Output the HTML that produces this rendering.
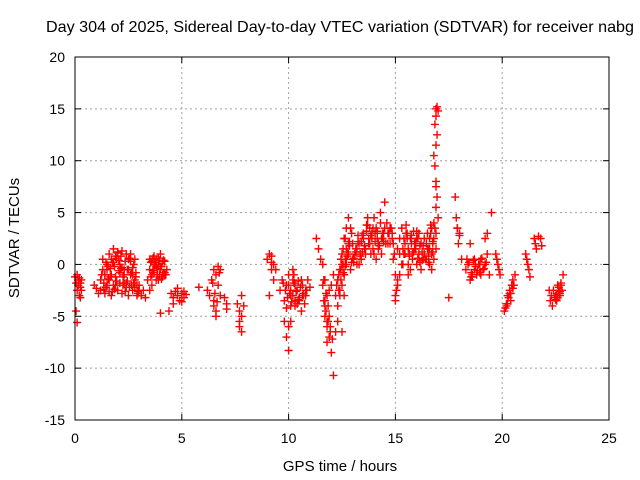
<!DOCTYPE html>
<html><head><meta charset="utf-8">
<style>
html,body{margin:0;padding:0;background:#fff;}
svg{display:block;font-family:"Liberation Sans",sans-serif;}
</style></head>
<body>
<svg id="chart" width="640" height="480" viewBox="0 0 640 480" xmlns="http://www.w3.org/2000/svg">
<text x="340" y="32" text-anchor="middle" font-size="16" textLength="588" lengthAdjust="spacingAndGlyphs" fill="#000">Day 304 of 2025, Sidereal Day-to-day VTEC variation (SDTVAR) for receiver nabg</text>
<g id="grid"></g>
<g id="ticks"></g>
<g id="points"></g>
<rect x="75" y="57" width="534" height="363" fill="none" stroke="#000" stroke-width="1"/>
<text x="340" y="471" text-anchor="middle" font-size="15">GPS time / hours</text>
<text transform="translate(19,238) rotate(-90)" text-anchor="middle" font-size="15">SDTVAR / TECUs</text>
</svg>
<script>
const xTicks=[0,5,10,15,20,25];
const yTicks=[-15,-10,-5,0,5,10,15,20];
const hours=[
0.0,0.05,0.1,0.1,0.15,0.15,0.2,0.2,0.25,0.25,0.3,0.05,0.1,0.25,0.3,
0.9,1.0,1.1,1.2,1.3,1.2,1.3,1.4,1.4,1.5,1.5,1.6,1.6,1.7,1.7,1.8,1.8,1.9,1.9,2.0,2.0,2.1,2.1,2.2,2.2,2.3,2.3,2.4,2.4,2.5,2.5,2.6,2.6,2.7,2.7,2.8,2.8,2.9,2.9,3.0,1.5,1.7,1.9,2.1,2.3,2.5,2.7,1.6,2.0,2.4,2.8,1.4,1.8,2.2,2.6,3.0,
3.1,3.2,3.3,3.4,3.5,3.5,3.6,3.6,3.7,3.7,3.8,3.8,3.9,3.9,4.0,4.0,4.1,4.1,4.2,4.2,4.3,3.6,3.8,4.0,4.2,3.7,3.9,4.1,4.0,3.5,
4.5,4.6,4.7,4.8,4.9,5.0,5.1,5.2,4.6,4.8,5.0,5.1,4.4,
5.8,6.2,6.3,6.4,6.5,6.5,6.6,6.6,6.7,6.7,6.8,6.5,6.6,6.8,7.0,7.1,7.1,
7.6,7.7,7.7,7.8,7.8,7.8,7.9,7.7,
9.0,9.1,9.2,9.2,9.3,9.4,9.3,9.1,9.2,
9.6,9.7,9.8,9.8,9.9,9.9,10.0,10.0,10.1,10.1,10.2,10.2,10.3,10.3,10.4,10.5,10.6,10.7,10.8,10.9,11.0,10.1,10.2,10.4,10.6,10.8,9.9,10.0,10.3,10.5,10.7,10.0,10.1,
11.3,11.4,11.5,11.6,11.6,11.7,11.7,11.8,11.8,11.9,11.9,12.0,12.0,12.1,12.1,11.7,11.8,11.9,11.8,11.7,12.2,
12.2,12.3,12.3,12.4,12.4,12.5,12.5,12.6,12.6,12.7,12.7,12.8,12.8,12.9,12.9,13.0,12.3,12.5,12.6,12.7,12.8,12.4,12.6,12.5,12.7,
13.0,13.1,13.2,13.3,13.4,13.5,13.6,13.7,13.8,13.9,14.0,14.1,14.2,14.3,14.4,14.5,13.2,13.5,13.8,14.1,14.4,13.3,13.6,13.9,14.2,14.5,14.0,14.3,13.4,13.7,
14.6,14.7,14.8,14.9,15.0,15.0,15.1,15.1,15.2,15.2,15.3,15.0,15.1,14.9,15.2,
15.3,15.4,15.5,15.6,15.7,15.8,15.9,16.0,16.1,16.2,16.3,15.5,15.7,15.9,16.1,16.3,15.4,15.6,15.8,16.0,16.2,15.6,16.0,
16.4,16.5,16.6,16.6,16.7,16.7,16.8,16.8,16.9,16.9,17.0,16.9,16.95,16.9,16.85,16.8,16.9,16.95,16.85,16.9,17.0,16.9,16.95,16.9,16.8,16.7,16.6,16.5,
17.5,17.8,17.85,17.9,17.95,18.0,18.1,18.0,17.9,
18.3,18.4,18.5,18.6,18.7,18.8,18.9,19.0,19.1,19.2,19.3,19.4,18.5,18.7,19.0,19.3,18.6,19.5,19.2,
19.7,19.75,19.8,19.85,19.9,
20.1,20.15,20.2,20.25,20.3,20.35,20.4,20.45,20.5,20.55,20.6,20.2,20.4,20.5,
21.1,21.15,21.2,21.25,21.3,21.5,21.55,21.6,21.7,21.8,21.85,
22.2,22.25,22.3,22.35,22.4,22.5,22.55,22.6,22.65,22.7,22.75,22.8,22.85,22.6,22.7,
1.25,1.35,1.45,1.55,1.65,1.75,1.85,1.95,2.05,2.15,2.25,2.35,2.45,2.55,2.65,2.75,2.85,2.95,1.35,1.55,1.75,1.95,2.15,2.35,2.55,2.75,2.95,1.45,1.65,1.85,2.05,2.25,2.45,2.65,2.85,
3.55,3.65,3.75,3.85,3.95,4.05,4.15,3.65,3.75,3.85,3.95,4.05,4.15,3.55,4.25,
6.45,6.55,6.65,6.75,
9.75,9.85,9.95,10.05,10.15,10.25,10.35,10.45,10.55,10.65,10.75,10.85,10.25,10.45,10.65,
11.65,11.75,11.85,11.95,11.75,11.85,11.95,12.05,11.65,
12.25,12.35,12.45,12.55,12.65,12.75,12.85,12.95,12.35,12.45,12.55,12.65,12.75,12.85,12.95,12.45,12.55,12.65,
13.05,13.15,13.25,13.35,13.45,13.55,13.65,13.75,13.85,13.95,14.05,14.15,14.25,14.35,14.45,13.15,13.35,13.55,13.75,13.95,14.15,14.35,14.55,13.05,13.25,13.45,13.65,13.85,14.05,14.25,14.45,
14.65,14.75,14.85,14.95,15.05,14.65,14.75,14.85,
15.35,15.45,15.55,15.65,15.75,15.85,15.95,16.05,16.15,16.25,15.35,15.45,15.55,15.65,15.75,15.85,15.95,16.05,16.15,16.25,
16.35,16.45,16.55,16.65,16.75,16.35,16.45,16.55,16.65,16.75,16.85,16.55,16.75,
18.45,18.55,18.65,18.75,18.85,18.95,19.05,19.15,19.25,18.35,18.55,18.75,18.95,
20.25,20.35,20.45,22.45,22.55,22.65,22.75,22.5,22.7
];
const sdtvar=[
-1.2,-1.8,-1.0,-2.5,-1.5,-2.0,-1.3,-3.0,-1.8,-2.2,-1.5,-4.5,-5.6,-3.2,-2.5,
-2.0,-2.3,-2.8,-1.5,-0.5,-2.5,0.5,-1.0,-2.8,0.0,-2.0,1.0,-1.5,0.5,-3.0,1.5,-2.0,0.8,-1.2,1.2,-2.5,0.0,-1.8,1.3,-2.8,-0.5,-1.0,1.0,-2.2,0.5,-3.0,1.0,-1.0,-0.3,-2.5,0.5,-1.5,-2.0,-3.0,-2.5,-0.5,-1.0,-2.0,-0.8,-1.8,-0.5,-1.0,-2.6,1.1,-1.8,-2.2,-1.0,0.2,-0.3,0.3,-2.0,
-3.0,-2.5,-3.2,-1.5,-0.5,0.5,-1.0,0.3,-0.8,0.8,-0.2,0.5,-1.5,0.0,-0.5,1.0,-1.0,0.3,-0.8,0.3,-0.5,-2.0,-1.5,-0.2,-1.0,0.0,0.6,-1.2,-4.7,-2.5,
-2.8,-3.2,-2.6,-3.0,-3.5,-2.8,-3.2,-2.9,-3.8,-2.3,-3.6,-2.6,-4.5,
-2.2,-2.5,-3.0,-1.5,-0.5,-3.5,-1.0,-4.5,-0.2,-2.0,-0.5,-4.0,-5.0,-3.0,-3.2,-3.8,-4.3,
-3.8,-4.5,-6.0,-3.0,-5.0,-6.5,-4.0,-5.5,
0.5,1.0,0.2,-0.5,0.0,-0.5,-1.5,-3.0,0.8,
-2.5,-1.5,-3.5,-5.5,-2.0,-7.0,-1.0,-8.3,-2.5,-4.0,-0.5,-3.0,-2.0,-4.0,-2.5,-3.5,-1.5,-3.0,-2.5,-1.5,-2.2,-5.5,-1.5,-3.8,-4.5,-3.0,-4.2,-6.0,-3.5,-3.2,-2.8,-2.0,-3.0,
2.5,1.5,0.5,0.0,-2.0,-1.5,-4.0,-3.0,-6.0,-5.0,-7.0,-2.0,-8.5,-1.0,-10.7,-3.5,-5.5,-2.5,-7.5,-5.0,-6.5,
-3.0,-1.5,-5.5,-0.5,-3.0,1.0,-2.0,2.5,-1.0,3.5,0.0,4.5,1.0,3.5,-0.5,2.0,-4.0,-6.5,-3.0,0.5,2.0,-2.5,-1.0,0.0,1.5,
0.5,1.0,0.0,2.0,0.5,3.0,1.0,4.5,2.0,3.0,1.0,3.5,2.0,4.0,2.5,6.0,1.5,2.5,3.5,0.5,3.0,0.0,1.5,2.5,1.5,3.5,4.5,5.0,2.2,3.8,
4.0,3.0,3.5,0.5,-1.0,-3.5,-2.0,1.5,-1.0,2.5,0.0,-3.0,-1.5,2.0,1.0,
3.5,2.5,3.0,1.5,2.5,0.5,1.5,0.0,1.0,-0.5,0.5,3.8,-0.5,2.0,3.0,1.8,1.0,0.0,1.0,3.2,2.0,-1.0,2.5,
0.5,1.5,2.5,0.0,3.5,1.0,2.5,4.0,1.5,3.0,4.5,5.5,6.5,8.0,9.5,10.5,11.5,12.5,13.5,14.3,14.8,15.0,15.2,7.5,0.5,-0.5,1.5,3.0,
-3.2,6.5,4.5,3.5,2.0,3.0,0.5,2.8,3.5,
-0.5,0.0,2.0,-1.0,0.5,-1.0,0.0,0.5,-0.5,0.0,1.0,-1.0,-1.5,-0.5,-1.0,3.0,-1.2,5.0,2.5,
1.0,0.5,0.0,-0.5,-1.0,
-4.5,-4.2,-3.8,-3.0,-3.2,-2.5,-2.8,-2.0,-1.5,-2.0,-1.0,-4.0,-3.5,-2.3,
1.0,0.5,0.0,-0.5,-1.2,2.5,2.0,1.5,2.7,2.5,1.8,
-2.5,-3.5,-3.0,-4.0,-2.5,-3.0,-3.5,-2.0,-2.5,-3.0,-1.8,-2.5,-1.0,-3.2,-2.8,
-1.0,-1.8,-2.2,-0.2,-1.2,0.2,-2.4,0.6,-0.6,0.8,-2.0,0.3,-1.6,0.6,-0.8,0.0,-1.2,-2.6,-2.4,-1.4,-2.6,-1.6,-0.4,-2.6,-2.2,-1.8,-2.8,0.2,-0.4,-0.2,0.4,-1.2,-0.5,-2.0,-0.8,
-1.2,-0.6,0.0,-0.4,-1.0,-0.2,0.4,0.6,0.2,-1.0,0.4,-1.4,-0.8,0.2,-1.0,
-1.8,-2.8,-3.6,-0.8,
-1.8,-2.5,-3.2,-2.8,-3.6,-1.8,-2.6,-3.4,-2.2,-3.0,-3.8,-2.5,-1.0,-1.6,-2.0,
-3.5,-4.5,-5.5,-6.5,-2.8,-4.0,-6.0,-7.2,-1.5,
-2.0,-1.0,-0.5,0.0,0.5,1.2,2.2,3.0,-2.5,-1.5,-0.8,-0.2,0.8,1.8,0.2,0.5,1.5,2.5,
0.2,1.5,2.2,1.0,2.8,1.5,3.2,2.0,2.8,1.5,2.2,3.2,1.8,2.5,3.0,1.2,0.8,1.8,2.5,3.5,2.5,1.0,2.0,0.6,2.8,1.2,3.8,1.0,3.0,1.8,2.2,
3.0,2.0,2.5,1.0,-2.5,2.0,3.5,3.0,
1.5,2.0,3.0,0.8,2.0,1.2,2.2,0.6,1.8,0.4,0.0,1.0,2.5,1.0,2.8,3.2,1.5,2.5,0.2,1.2,
1.0,2.0,0.8,3.0,2.0,2.5,0.5,1.5,3.8,1.2,3.5,0.2,2.2,
0.2,-0.8,0.4,-0.2,-0.6,0.0,0.6,-0.4,0.2,0.5,-1.2,0.0,-0.8,
-3.8,-2.8,-2.0,-3.2,-2.8,-2.2,-2.0,-3.4,-2.6
];
const SVGNS="http://www.w3.org/2000/svg";
const X0=75,X1=609,Y0=420,Y1=57;
function xScale(v){return X0+(v-0)/(25-0)*(X1-X0);}
function yScale(v){return Y0-(v+15)/(20+15)*(Y0-Y1);}
const grid=document.getElementById('grid'),ticks=document.getElementById('ticks'),pts=document.getElementById('points');
function mk(tag,attrs,parent){const e=document.createElementNS(SVGNS,tag);for(const k in attrs)e.setAttribute(k,attrs[k]);parent.appendChild(e);return e;}
xTicks.forEach(t=>{
  const x=xScale(t);
  if(t>0&&t<25){const g=mk('line',{x1:x,x2:x,y1:Y1,y2:Y0,stroke:'#a0a0a0','stroke-dasharray':'2,3'},grid);
  
  }
  mk('line',{x1:x,x2:x,y1:Y0,y2:Y0-6,stroke:'#000'},ticks);
  mk('line',{x1:x,x2:x,y1:Y1,y2:Y1+6,stroke:'#000'},ticks);
  const l=mk('text',{x:x,y:Y0+23,'text-anchor':'middle','font-size':'14'},ticks);
  l.textContent=t;
  
  
});
yTicks.forEach(t=>{
  const y=yScale(t);
  if(t>-15&&t<20){const g=mk('line',{x1:X0,x2:X1,y1:y,y2:y,stroke:'#a0a0a0','stroke-dasharray':'2,3'},grid);
  
  }
  mk('line',{x1:X0,x2:X0+6,y1:y,y2:y,stroke:'#000'},ticks);
  mk('line',{x1:X1,x2:X1-6,y1:y,y2:y,stroke:'#000'},ticks);
  const l=mk('text',{x:X0-10,y:y+5,'text-anchor':'end','font-size':'14'},ticks);
  l.textContent=t;
  
  
});
hours.forEach((h,i)=>{
  const x=xScale(h),y=yScale(sdtvar[i]);
  const p=mk('path',{d:`M${x-4},${y}H${x+4}M${x},${y-4}V${y+4}`,stroke:'#ff0000','stroke-width':'1.4',fill:'none'},pts);
  
  
});
</script>
</body></html>
